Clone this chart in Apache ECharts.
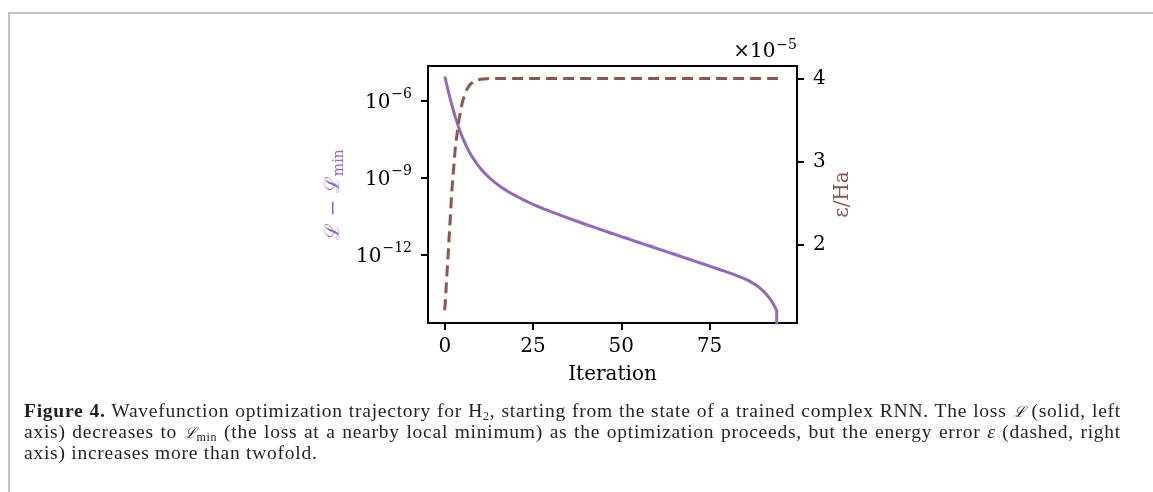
<!DOCTYPE html>
<html>
<head>
<meta charset="utf-8">
<title>Figure 4</title>
<script src="https://cdn.jsdelivr.net/npm/echarts@6/dist/echarts.min.js"></script>
<style>
html, body { margin: 0; padding: 0; background: #fff; }
#wrap { position: relative; width: 1153px; height: 492px; overflow: hidden; }
#frame {
  position: absolute; left: 8px; top: 12px; right: -10px; bottom: -10px;
  border-top: 2px solid #c2c2c2; border-left: 2px solid #c2c2c2;
}
#chart { position: absolute; left: 0; top: 0; width: 1153px; height: 492px; }
#caption {
  position: absolute; left: 24px; top: 400px; width: 1097px;
  font-family: "Liberation Serif", serif; font-size: 19.5px;
  color: #231f20; letter-spacing: 0.75px;
}
#caption .ln { height: 21px; line-height: 21px; white-space: nowrap; text-align: justify; text-align-last: justify; }
#caption .ln.last { text-align-last: left; }
#caption .ls { font-family: "DejaVu Serif", serif; font-style: italic; font-size: 15px; }
#caption sub { font-size: 12px; line-height: 0; vertical-align: -3px; }
</style>
</head>
<body>
<div id="wrap">
  <div id="frame"></div>
  <div id="chart"></div>
  <div id="caption">
    <div class="ln"><b>Figure 4.</b> Wavefunction optimization trajectory for H<sub>2</sub>, starting from the state of a trained complex RNN. The loss <span class="ls">ℒ</span> (solid, left</div>
    <div class="ln">axis) decreases to <span class="ls">ℒ</span><sub>min</sub> (the loss at a nearby local minimum) as the optimization proceeds, but the energy error <i>ε</i> (dashed, right</div>
    <div class="ln last">axis) increases more than twofold.</div>
  </div>
</div>
<script>
// iteration index
const iterations = [0, 1, 2, 3, 4, 5, 6, 7, 8, 9, 10, 11, 12, 13, 14, 15, 16, 17, 18, 19,
  20, 21, 22, 23, 24, 25, 26, 27, 28, 29, 30, 31, 32, 33, 34, 35, 36, 37, 38, 39,
  40, 41, 42, 43, 44, 45, 46, 47, 48, 49, 50, 51, 52, 53, 54, 55, 56, 57, 58, 59,
  60, 61, 62, 63, 64, 65, 66, 67, 68, 69, 70, 71, 72, 73, 74, 75, 76, 77, 78, 79,
  80, 81, 82, 83, 84, 85, 86, 87, 88, 89, 90, 91, 92, 93, 94, 95]

// log10(L - Lmin); null = reached Lmin (gap is zero)
const lossGapLog10 = [-5.04, -5.62, -6.15, -6.63, -7.05, -7.41, -7.72, -7.99, -8.22, -8.42,
  -8.60, -8.76, -8.90, -9.03, -9.145, -9.25, -9.35, -9.44, -9.525, -9.605,
  -9.68, -9.752, -9.822, -9.89, -9.955, -10.018, -10.078, -10.136, -10.192, -10.246,
  -10.299, -10.351, -10.403, -10.455, -10.507, -10.559, -10.608, -10.657, -10.706, -10.755,
  -10.804, -10.851, -10.898, -10.945, -10.992, -11.039, -11.086, -11.133, -11.180, -11.227,
  -11.274, -11.320, -11.366, -11.412, -11.458, -11.504, -11.550, -11.596, -11.642, -11.688,
  -11.734, -11.780, -11.826, -11.872, -11.918, -11.964, -12.010, -12.056, -12.102, -12.148,
  -12.194, -12.240, -12.286, -12.332, -12.378, -12.424, -12.471, -12.518, -12.565, -12.612,
  -12.659, -12.708, -12.759, -12.812, -12.867, -12.925, -12.990, -13.065, -13.150, -13.250,
  -13.370, -13.510, -13.680, -13.890, -14.160, null]

// energy error in units of 1e-5 Ha
const energyErr = [1.22, 1.92, 2.65, 3.18, 3.50, 3.72, 3.85, 3.92, 3.96, 3.98,
  3.99, 3.995, 3.998, 4.0, 4.0, 4.0, 4.0, 4.0, 4.0, 4.0,
  4.0, 4.0, 4.0, 4.0, 4.0, 4.0, 4.0, 4.0, 4.0, 4.0,
  4.0, 4.0, 4.0, 4.0, 4.0, 4.0, 4.0, 4.0, 4.0, 4.0,
  4.0, 4.0, 4.0, 4.0, 4.0, 4.0, 4.0, 4.0, 4.0, 4.0,
  4.0, 4.0, 4.0, 4.0, 4.0, 4.0, 4.0, 4.0, 4.0, 4.0,
  4.0, 4.0, 4.0, 4.0, 4.0, 4.0, 4.0, 4.0, 4.0, 4.0,
  4.0, 4.0, 4.0, 4.0, 4.0, 4.0, 4.0, 4.0, 4.0, 4.0,
  4.0, 4.0, 4.0, 4.0, 4.0, 4.0, 4.0, 4.0, 4.0, 4.0,
  4.0, 4.0, 4.0, 4.0, 4.0, 4.0]

const xTicks = [0, 25, 50, 75]
const lossTickExps = [-12, -9, -6]
const errTicks = [2, 3, 4]

const FONT = '"DejaVu Serif", serif'
const PURPLE = '#9467bd'
const BROWN = '#8c564b'

// a zero gap is drawn like matplotlib's log clip: straight down out of the axes
const lossData = iterations.map((it, i) => [it, lossGapLog10[i] === null ? 1e-300 : Math.pow(10, lossGapLog10[i])])
const errData = iterations.map((it, i) => [it, energyErr[i] * 1e-5])

const chart = echarts.init(document.getElementById('chart'))

const tickStyle = { show: true, length: 7, lineStyle: { color: '#000', width: 2 } }

chart.setOption({
  animation: false,
  grid: {
    left: 428, top: 66, width: 369, height: 257,
    show: true, borderColor: '#000', borderWidth: 2, backgroundColor: 'transparent',
    outerBoundsMode: 'none'
  },
  xAxis: {
    type: 'value',
    min: -4.75,
    max: 99.75,
    name: 'Iteration',
    nameLocation: 'middle',
    nameGap: 42,
    nameTextStyle: { fontFamily: FONT, fontSize: 20, color: '#000' },
    axisLine: { show: false, onZero: false },
    axisTick: Object.assign({ customValues: xTicks }, tickStyle),
    axisLabel: { customValues: xTicks, fontFamily: FONT, fontSize: 20, color: '#000', margin: 14 },
    splitLine: { show: false }
  },
  yAxis: [
    {
      type: 'log',
      logBase: 10,
      position: 'left',
      min: Math.pow(10, -14.64),
      max: Math.pow(10, -4.63),
      name: '{a|ℒ − ℒ}{sub|min}',
      nameLocation: 'middle',
      nameRotate: 90,
      nameGap: 82,
      nameTextStyle: {
        color: PURPLE,
        rich: {
          a: { fontFamily: FONT, fontSize: 20, color: PURPLE },
          sub: { fontFamily: FONT, fontSize: 14, color: PURPLE, padding: [10, 0, 0, 0] }
        }
      },
      axisLine: { show: false, onZero: false },
      axisTick: Object.assign({ customValues: lossTickExps.map(e => Math.pow(10, e)) }, tickStyle),
      axisLabel: {
        customValues: lossTickExps.map(e => Math.pow(10, e)),
        margin: 16,
        formatter: v => '{b|10}{s|−' + Math.abs(Math.round(Math.log10(v))) + '}',
        rich: {
          b: { fontFamily: FONT, fontSize: 20, color: '#000', padding: [4, 0, 0, 0] },
          s: { fontFamily: FONT, fontSize: 14, color: '#000', padding: [0, 0, 14, 1] }
        }
      },
      splitLine: { show: false },
      minorTick: { show: false }
    },
    {
      type: 'value',
      position: 'right',
      min: 1.067e-5,
      max: 4.15e-5,
      name: 'ε/Ha',
      nameLocation: 'middle',
      nameRotate: 90,
      nameGap: 36,
      nameTextStyle: { fontFamily: FONT, fontSize: 20, color: BROWN },
      axisLine: { show: false, onZero: false },
      axisTick: Object.assign({ customValues: errTicks.map(t => t * 1e-5) }, tickStyle),
      axisLabel: {
        customValues: errTicks.map(t => t * 1e-5),
        margin: 16,
        fontFamily: FONT, fontSize: 20, color: '#000',
        formatter: v => String(Math.round(v / 1e-5))
      },
      splitLine: { show: false }
    }
  ],
  graphic: [
    {
      type: 'text',
      right: 1153 - 797,
      top: 38,
      style: {
        text: '×10{s|−5}',
        fontFamily: FONT, fontSize: 20, fill: '#000',
        rich: {
          s: { fontFamily: FONT, fontSize: 14, fill: '#000', padding: [0, 0, 14, 1] }
        }
      }
    }
  ],
  series: [
    {
      name: 'loss',
      type: 'line',
      yAxisIndex: 0,
      data: lossData,
      showSymbol: false,
      clip: true,
      lineStyle: { color: PURPLE, width: 3 }
    },
    {
      name: 'energy error',
      type: 'line',
      yAxisIndex: 1,
      data: errData,
      showSymbol: false,
      clip: true,
      lineStyle: { color: BROWN, width: 3, type: [11, 6] }
    }
  ]
})
</script>
</body>
</html>
